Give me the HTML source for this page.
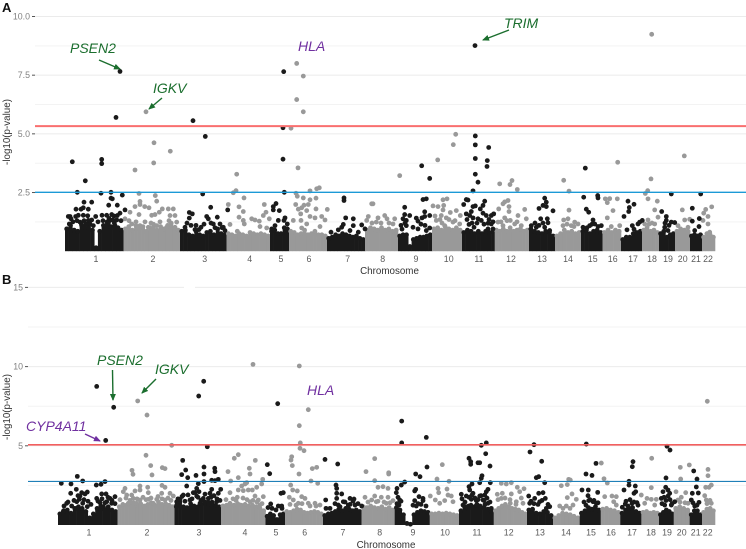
<!DOCTYPE html>
<html lang="en">
<head>
<meta charset="utf-8">
<title>Manhattan plots</title>
<style>
html,body{margin:0;padding:0;background:#fff;}
svg{display:block;font-family:"Liberation Sans",sans-serif;}
</style>
</head>
<body>
<svg id="chart" width="746" height="549" viewBox="0 0 746 549" xmlns="http://www.w3.org/2000/svg">
  <defs>
    <marker id="head-green" markerWidth="7" markerHeight="7" refX="6" refY="3" orient="auto" markerUnits="userSpaceOnUse"><path d="M0,0 L7,3 L0,6 Z" fill="#1b6e2e"/></marker>
    <marker id="head-purple" markerWidth="7" markerHeight="7" refX="6" refY="3" orient="auto" markerUnits="userSpaceOnUse"><path d="M0,0 L7,3 L0,6 Z" fill="#7030a0"/></marker>
  </defs>
</svg>
<script>
const chromNames = ["1","2","3","4","5","6","7","8","9","10","11","12","13","14","15","16","17","18","19","20","21","22"];

const chromEdgesA = [0,58.5,115,161.5,205,224,262,300,333,367,397,429.7,464,490,516,537.5,556,577,594,610,625,637,650];
const chromEdgesB = [0,59.5,116.5,163,207.5,227,265,303.5,336.7,371.7,401,435.7,469,495,521.7,542.7,562.3,583.3,601,615.7,631.7,644,657];
const tickPosA = [31,88,139.7,184.7,216,244,282.7,317.7,351,383.7,414,446,477,503,527.7,547.7,568,587,603,617.7,631,643];
const tickPosB = [31,89,141,187,218,246.7,285,321.7,355,387,419,450.7,482,508,533,553,574,593,609,623.7,637.7,649.7];

const yMajorA = [2.5,5,7.5,10];
const yLabelsA = ["2.5","5.0","7.5","10.0"];
const yMinorA = [1.25,3.75,6.25,8.75];
const yMajorB = [5,10,15];
const yLabelsB = ["5","10","15"];
const yMinorB = [2.5,7.5,12.5];

const thresholdsA = {red:5.33, blue:2.51};
const thresholdsB = {red:5.06, blue:2.75};

const massA = [
 [1.05,1.2,1,.95,1.25,1.1,1.3,1,.25,.95,1.2,1.35,1.15,1.3,1.1,1],
 [1.05,1.15,1,1.2,1.05,1.15,.95,1.1,1.25,1,1.15,1.05,1.2,1.3,1.1,1],
 [.95,1,.8,.75,.95,.8,.75,.9,.95,.8,1.05,.85,.8],
 [.85,.8,.75,.85,.8,.75,.9,.85,.8,.85,.8,.75],
 [.95,1,.85,.85,1.1,1.05],
 [.95,.9,.8,.85,1,.8,.85,.95,.8,.8,.75],
 [.65,.7,.8,.75,.85,.8,.75,.7,.75,.65,.6],
 [1,1.1,1.05,1,1.1,1,1.05,.95,1],
 [.75,.8,.8,.3,.6,.65,.7,.7,.75,.8],
 [1.05,1.1,1,1.15,1.05,1,1.1,1],
 [.9,1,.95,.85,.95,.85,.95,.9,.95],
 [1,.95,1.05,.95,1.1,.95,1,1.05,.95,1],
 [1.05,.95,.9,.85,.95,.9,.75],
 [.75,.85,1,.9,.95,.85,.9],
 [.95,1,.85,.95,1,.9],
 [.9,1,.9,1,.95],
 [.6,.7,.7,.85,.9,.95],
 [1,1.1,.95,1,.9],
 [.85,.95,.7,.8,.85],
 [.95,1.05,1,.95],
 [.75,.8,.75,.8],
 [.7,.85,.8,.7]
];
const massB = [
 [.85,1.05,1.1,.9,1.2,1.3,1.2,1,.6,.85,1.2,1.35,1.15,1.3,1.1,1],
 [1.3,1.45,1.4,1.5,1.55,1.4,1.5,1.35,1.45,1.55,1.4,1.6,1.45,1.5,1.4,1.3],
 [1.3,1.6,1.3,1.25,1.5,1.35,1.3,1.45,1.6,1.45,1.6,1.4,1.3],
 [1.35,1.4,1.45,1.4,1.5,1.4,1.45,1.35,1.4,1.3,1.2,1.05],
 [.7,.85,.75,.5,.8,.85],
 [1,.95,1.05,1.15,1.1,.95,.9,.95,1,.95,.85],
 [.75,.85,.9,1,1.15,1.05,1.2,1.15,1.05,1.1,1],
 [1.3,1.25,1.35,1.25,1.2,1.3,1.15,1.25,1.1],
 [1.25,1.1,.8,.25,.2,.8,.95,1.05,1,.95],
 [.85,.85,.9,.85,.9,.85,.8,.75],
 [1.05,1.25,1.35,1.3,1.4,1.35,1.25,1.15,1],
 [1.05,1.2,1.35,1.45,1.3,1.2,1.15,1.1,.95,.85],
 [1.1,1.15,.9,.85,1,.95,.75],
 [.6,.75,.9,.85,.8,.7,.6],
 [.9,1.05,1.25,1.15,1.3,1.1],
 [1.15,1.2,1.1,1.05,.95],
 [.9,1.1,1.2,1.25,1,.9],
 [.95,1,.9,.95,.9],
 [.8,.95,1.1,1,.85],
 [1.2,1.3,1.2,1.1],
 [.8,1.05,1.05,.8],
 [.95,1.15,1.2,1.05]
];

const blackA = [
 [55,7.66],[51,5.7],[7.3,3.81],[12.3,2.51],[20.3,3],[36.7,3.91],[36.7,3.73],[36,2.47],[46,2.51],[57.3,2.39],[47.3,2.23],[46,2.26],[19,2.09],[26.7,2.09],[11,1.79],[16,1.79],[18.3,1.85],[23.3,1.79],[5,1.48],[3.3,1.48],[6,1.38],[10.7,1.48],[13.3,1.53],[18.3,1.53],[22.7,1.51],[26.7,1.33],[30.7,1.48],[43.7,1.96],[52.3,1.96],[60,1.76],[55,1.62],[52.3,1.52],[37,1.53],[41.7,1.53],[46.7,1.56],[51.7,1.33],[47.7,1.33],[45,1.31],[43.3,1.19],[41,1.09],[4.3,1.16],[15,1.24],[23.3,1.31],[25,1.16],[28.3,1.09],[16.7,1.09],[50,1.09],[1.7,.95],
 [128,5.56],[140.3,4.89],[137.7,2.44],[145.7,1.87],[124.3,1.65],[127.3,1.59],[124.3,1.41],[141.7,1.48],[143.3,1.38],[152.3,1.45],[130,.92],[134,.92],[136,1.02],[120,1.02],[148.3,1.16],[155,1.16],[158.3,1.02],[160,.88],[162.7,1.76],
 [218.7,7.65],[218,5.26],[218,3.92],[219.3,2.51],[211,2.03],[208.3,1.9],[208.3,1.76],[214.3,1.73],[220,1.42],[219,1.31],[222.3,1.16],[213.3,1.31],[210,1.09],[221.7,.95],[206.7,.95],
 [279,2.27],[279,2.16],[278.3,1.14],[280.7,1.42],[288.3,1.38],[288.3,1.09],[296.7,1.12],[300,.95],[266,.81],[276.7,1.02],[273.3,.91],[285,.88],[293.3,.81],
 [356.7,3.64],[364.7,3.1],[358,2.2],[361.3,2.23],[339.7,1.87],[359.7,1.68],[339.7,1.56],[344.7,1.52],[338,1.38],[341.3,1.31],[351.3,1.41],[357,1.42],[359.7,1.48],[364.7,1.52],[353,1.28],[337,.94],[341.3,1.09],[348,1.02],[353,.95],[364.7,.99],[361.3,.88],
 [410,8.76],[410.3,4.91],[410.3,4.53],[423.7,4.42],[410.3,3.95],[422.3,3.86],[422,3.61],[410.3,3.28],[413,2.94],[408,2.57],[401.3,2.2],[403,2.18],[398.7,1.99],[408,1.9],[410.3,1.93],[419.7,2.13],[418,1.95],[415.3,1.8],[406.3,1.69],[401.3,1.59],[404.7,1.52],[408,1.42],[413,1.38],[418,1.62],[421.3,1.52],[426.3,1.52],[428.7,1.59],[416.3,1.31],[423,1.19],[426.3,1.16],[404,1.14],[409,1.02],[423,.95],[428,.95],
 [479.7,2.26],[481.3,2.09],[478,1.95],[481.3,1.9],[474,1.82],[488,1.72],[475.7,1.38],[482.3,1.38],[483,1.21],[466.3,1.09],[471.3,1.02],[479.7,1.02],[484.7,.88],
 [520.3,3.54],[518.7,2.3],[532.7,2.37],[533,2.27],[521.3,1.79],[523.7,1.66],[528,1.33],[524.7,1.09],[518,1.02],[536.3,1.09],[529.7,1.16],
 [563,2.13],[569,2],[564.3,1.86],[563.7,1.69],[559,1.48],[562,.91],[567.3,1.09],[569,.94],[573,1.16],[577.3,1.31],[574.7,1.24],
 [606.3,2.44],[596.7,1.69],[601.3,1.48],[601.3,1.31],[606.3,1.24],[609.7,1.22],[599.7,1.02],[603,.88],
 [635.7,2.44],[627.3,1.83],[634.3,1.39],[627.3,1.28],[634,1.05],[629.7,.88],
 [8,1.25],[12,1.3],[19,1.3],[21,1.15],[33,1.25],[38,1.3],[44,1.4],[49,1.5],[56,1.3],
 [122,1.2],[126,1.1],[131,1.1],[139,1.15],[146,1.2],[150,1],[157,1],
 [340,1.2],[336,1.1],[356,1.15],[360,1.1],
 [402,1.35],[407,1.2],[412,1.2],[419,1.15],[424,1.35],[428,1.25],
 [470,1.2],[474,1.1],[478,1.2],
 [522,1],[527,1.15],[533,1.05],
 [600,1.2],[604,1.1]
];
const grayA = [
 [81,5.94],[89,4.62],[105.3,4.26],[88.7,3.76],[70,3.46],[74,2.46],[90.3,2.37],[91.7,2.13],[75,2.12],[70,1.9],[75,1.99],[79.7,1.9],[84,1.85],[65,1.66],[74,1.56],[86.7,1.53],[90,1.56],[97.3,1.8],[94.3,1.66],[103.3,1.8],[108.3,1.8],[105,1.52],[110,1.52],[60,1.38],[66.7,1.16],[75,1.09],[83.3,1.02],[91.7,1.09],[101.7,1.02],[111.7,1.24],[110,1.02],
 [171.7,3.28],[171,2.58],[168.3,2.49],[163.3,1.99],[179,2.27],[174,1.89],[178.3,1.69],[174,1.45],[178.3,1.31],[179.3,1.16],[186.7,1.38],[190,1.33],[194.3,1.28],[199.3,1.99],[201,1.66],[198.3,1.52],[204.3,1.38],[201.7,.99],[195,1.05],[165,1.14],[172.3,.85],
 [231.7,8],[238.3,7.46],[231.7,6.46],[238.3,5.94],[226,5.24],[233,3.55],[231,2.47],[232.3,2.34],[245,2.57],[251.7,2.66],[254.3,2.7],[238.3,2.27],[245,2.19],[251,2.26],[230.7,1.99],[239,1.96],[243.3,1.99],[236.7,1.85],[233.3,1.79],[241.7,1.73],[235.7,1.59],[251,1.8],[262.3,1.78],[245,1.48],[250,1.42],[256.7,1.48],[260,1.33],[228.3,1.31],[236,1.31],[241.7,1.16],[255,1.05],[236.7,.99],
 [306.7,2.02],[303.3,1.48],[301.7,1.31],[308,2.02],[319.7,1.52],[313,1.42],[322,1.38],[329.7,1.38],[311.3,1.24],[328,1.16],[334.7,3.22],
 [390.7,4.98],[388.3,4.54],[372.7,3.89],[368,1.93],[373,1.9],[378,2.19],[382,2.23],[378.7,1.95],[378,1.76],[385.3,1.65],[391.3,1.73],[395.3,1.52],[376.3,1.52],[381.3,1.42],[371.3,1.31],[388,1.24],[394.7,1.16],[379.7,1.09],
 [434.7,2.87],[447,3.01],[445,2.84],[452.3,2.63],[443,2.16],[439.7,2.1],[438,2.02],[433.7,1.8],[444,1.9],[444,1.69],[459.7,1.78],[439.7,1.42],[445.3,1.31],[453,1.52],[461.3,1.38],[433,1.24],[438,1.09],[449.7,1.16],[456.3,1.09],
 [498.7,3.02],[504,2.56],[504,1.75],[498.7,1.33],[503,1.38],[509.7,1.24],[498,1.09],[506.3,1.09],[513,1.16],
 [552.7,3.79],[540.3,2.23],[542.3,2.07],[544.7,2.24],[552.3,2.23],[548,1.73],[542.3,1.42],[546.3,1.05],[554.7,1.09],
 [586.7,9.24],[586,3.08],[582.7,2.58],[580.3,2.46],[583,2.23],[592.3,2.13],[589.7,1.76],[593,1.45],[583,1.33],[579.7,1.16],[589.7,1.16],
 [619.3,4.06],[617.3,1.76],[619.7,1.33],[624.7,1.36],[613,1.09],[623,1.02],
 [646.7,1.89],[640.7,1.78],[638.7,1.62],[643,1.48],[638,1.31],[643,1.16],[644.7,.81],
 [64,1.3],[71,1.25],[80,1.25],[86,1.2],[95,1.25],[104,1.3],
 [307,1.2],[316,1.2],[324,1.2],
 [370,1.5],[375,1.35],[384,1.35],[390,1.3],[377,1.2],
 [436,1.25],[442,1.3],[452,1.25],
 [584,1.15],[587,1.2],
 [502,1.15],[509,1.05]
];

const blackB = [
 [38.7,8.75],[55.7,7.43],[47.7,5.34],[19.3,3.07],[24.7,2.78],[3.3,2.63],[13,2.59],[38.3,2.52],[43,2.57],[47,2.74],[18.3,2.25],[12.7,2],[43.7,1.96],[22,1.83],[23.7,2.04],[29.3,2.08],[27,1.96],[21.3,1.62],[18.7,1.47],[24.7,1.37],[48,1.96],[38.7,1.68],[52,1.68],[57,1.79],[42,1.41],[48.7,1.47],[53.7,1.37],[8.7,1.37],[13.7,1.2],[29.3,1.16],[45.3,1.16],[5.3,.84],[18.7,1.05],
 [145.7,9.07],[140.7,8.14],[149.3,4.94],[124.7,4.08],[146,3.66],[156.7,3.58],[157,3.37],[127.7,3.47],[123.7,3.18],[138,3.13],[146,3.22],[129.7,2.99],[160.3,2.88],[157,2.8],[153.7,2.82],[146,2.74],[140.3,2.61],[128.7,2.46],[138.7,2.31],[153.7,2.25],[162.7,2.25],[141,2.1],[135.3,2.04],[152,2],[160.3,2],[125.3,1.89],[138.7,1.83],[145.3,1.68],[122,1.62],[150.3,1.68],[132,1.58],[142,1.37],[158.7,1.47],[118.7,1.26],[133.7,1.2],[118.7,1.47],
 [219.7,7.66],[209.3,3.81],[211.7,3.24],[223,2],[225.3,2.04],[212.7,1.33],[220.3,1.2],[223.7,1.2],
 [267,4.14],[279.7,3.85],[278,2.52],[278.7,2.31],[278.7,2],[283.7,1.96],[278.7,1.68],[267.7,1.58],[268,1.05],[292,1.68],[296,1.64],[285.3,1.47],[290.3,1.26],[280.3,1.26],[297,1.26],[303.7,1.2],
 [343.7,6.56],[343.7,5.18],[368.3,5.53],[369,3.66],[357.7,3.22],[362,3.05],[346.7,2.71],[343.3,2.52],[339,2.31],[338.3,2.04],[357.7,2.25],[356.7,2.15],[361,1.79],[365,1.68],[356.7,1.54],[341.7,1.58],[365,1.54],[358.3,1.2],[341,1.26],
 [428.3,5.18],[423.3,5.03],[427.7,4.5],[411,4.21],[412.7,4],[412.7,3.83],[420,3.93],[421.7,3.93],[432,3.72],[424,3.11],[423.3,2.95],[421.7,2.67],[432.3,2.67],[414,2.59],[411,2.42],[430,2.25],[428.3,2.1],[411.7,2.21],[403.3,1.94],[408.3,1.83],[415,2],[426.7,1.89],[421.7,1.83],[413.3,1.62],[418.3,1.54],[425,1.58],[405,1.26],[410,1.05],[430,1.37],[433.3,1.05],
 [476,5.07],[472,4.61],[483.7,4.02],[478.3,2.99],[480.7,3.05],[486.7,2.67],[480.7,2],[485,2.04],[487.3,1.68],[470.7,1.83],[476.7,1.68],[481.7,1.47],[471.7,1.37],[491.7,1.16],[488.3,1.05],
 [528.3,5.11],[538,3.89],[528,3.22],[534,3.13],[524,2.21],[530.3,2.21],[539.7,2.06],[530,1.85],[530.7,1.54],[535,1.47],[538.3,1.37],
 [575,4],[574.3,3.68],[571,2.76],[571,2.52],[566,2.21],[577.3,2.46],[577.7,2.1],[576,2],[567.3,1.33],[564.3,1.12],[574,1.37],[579,1.41],
 [609,4.97],[612,4.73],[608,2.97],[607.7,2.38],[610,2.21],[605,2.1],[611.7,2],[610,1.83],[603.3,1.68],[616.7,1.47],[613.3,1.26],[606.7,1.26],
 [635.7,3.41],[639,2.9],[638.3,2.4],[640.3,2.02],[634.3,2],[633.3,1.58],[641,1.43],[636.7,1.2],
 [6,1.2],[10,1.45],[16,1.55],[20,1.85],[26,1.6],[30,1.5],[33,1.3],[40,1.5],[44,1.65],[47,1.4],[50,1.75],[54,1.55],[57,1.35],
 [120,1.65],[124,1.8],[127,1.5],[130,1.9],[134,1.65],[137,2.05],[140,1.75],[143,1.55],[147,1.95],[150,1.45],[153,1.75],[156,1.85],[159,1.65],[162,1.55],
 [210,1.1],[214,1.05],[218,.95],[224,1.05],
 [272,1.05],[277,1.35],[282,1.15],[287,1.45],[292,1.3],[295,1.5],[300,1.35],
 [340,1.75],[343,1.5],[339,1.35],[355,1.25],[360,1.35],[363,1.3],[368,1.2],
 [404,1.65],[407,1.45],[411,1.75],[414,1.9],[417,1.7],[420,1.6],[423,1.85],[426,1.55],[429,1.7],[432,1.45],[408,1.15],[413,1.25],[419,1.3],[427,1.3],
 [473,1.5],[476,1.35],[480,1.3],[484,1.55],[490,1.3],
 [526,1.45],[532,1.6],[536,1.55],[540,1.4],[528,1.25],
 [568,1.5],[572,1.6],[576,1.45],[580,1.25],[570,1.2],
 [604,1.35],[608,1.55],[612,1.6],[606,1.75],[614,1.35],
 [635,1.4],[639,1.25]
];
const grayB = [
 [79.7,7.83],[89,6.94],[113.7,5.03],[88,4.4],[92.7,3.75],[74,3.45],[75,3.2],[94,3.16],[104.3,3.62],[107,3.56],[104,2.5],[107,2.38],[82,2.46],[89.7,2.38],[67,2.31],[65.3,2.1],[77,2.15],[82,2.21],[90.3,2.04],[103.7,2],[112,2],[73.7,1.89],[68.7,1.89],[115.3,1.83],[75.3,1.68],[82,1.58],[90.3,1.62],[98.7,1.62],[107,1.58],[70.3,1.37],[78.7,1.37],[95.3,1.37],[108.7,1.26],
 [195,10.14],[176.3,4.21],[180.3,4.44],[197.3,4.08],[170,3.37],[191.3,3.58],[192,3.22],[180.3,2.99],[172.7,2.78],[188.7,2.67],[187,2.59],[183.7,2.46],[172,2.04],[180.3,2.21],[185.3,2.17],[190.3,2.21],[194.3,2.21],[198.7,2.38],[204.7,2.88],[203.7,2.59],[179.3,1.75],[197,1.83],[200.3,1.58],[205.3,1.79],[172,1.37],[182,1.26],[192,1.47],[202,1.26],
 [241.3,10.04],[250.3,7.28],[241.3,6.27],[242.3,5.18],[242,4.84],[246,4.69],[233.7,4.31],[233,4.1],[234.3,3.75],[241,3.22],[254.3,3.56],[258.7,3.64],[253,2.78],[259.7,2.63],[232.7,2.52],[234.7,2.21],[239.3,2.15],[243.7,1.79],[231.3,1.75],[247,1.68],[235.3,1.58],[250.3,1.37],[257,1.37],[240.3,1.37],[262,1.26],
 [308,3.37],[316.7,4.19],[330.7,3.3],[330.7,3.22],[316.7,2.8],[320,2.38],[325,2.42],[330,2.31],[316.7,1.83],[323.3,1.75],[330,1.75],[318.3,1.47],[335,1.54],[328.3,1.37],[307,1.75],[313.7,1.58],
 [384.3,3.81],[379,2.9],[391,2.76],[380,2.31],[389,2.27],[380.7,2.04],[372.3,1.83],[390,1.89],[393.3,1.83],[377.3,1.58],[386.7,1.54],[395,1.47],[381.7,1.37],
 [443.3,2.63],[448.3,2.59],[453.3,2.67],[459.3,2.38],[466,2.29],[439.3,1.94],[444.3,2],[453.3,1.96],[461.7,2.1],[443.3,1.68],[463.3,1.7],[458.3,1.47],[452.3,1.37],[465,1.37],
 [503.3,2.48],[509.3,2.55],[510.7,2.88],[512.3,2.84],[514,1.96],[509.3,1.73],[518.3,1.62],[501.7,1.2],[508.3,1.2],[515,1.26],
 [543.3,3.91],[546,2.92],[549.3,2.65],[546.7,1.79],[554,1.83],[558.3,1.79],[555.7,1.47],[558.3,1.26],
 [593.7,4.21],[593.3,2.36],[583.3,1.89],[589,1.68],[593.3,1.62],[598.3,1.62],[586.7,1.37],[596.7,1.26],
 [649.3,7.81],[631.3,3.79],[622.3,3.64],[622.7,2.9],[618,2.1],[627.7,2.04],[623.3,1.75],[620,1.58],[630,1.37],
 [650,3.51],[650,3.11],[647.7,2.38],[653.3,2.52],[651,2.38],[646.7,1.85],[648.3,1.58],[653.3,1.37],
 [62,1.6],[68,1.7],[72,1.55],[79,1.65],[85,1.75],[88,1.6],[93,1.7],[100,1.8],[104,1.65],[110,1.7],[113,1.55],
 [168,1.6],[175,1.65],[178,1.55],[185,1.7],[189,1.6],[195,1.55],[199,1.45],[204,1.35],
 [232,1.3],[238,1.25],[244,1.35],[252,1.2],[258,1.2],
 [310,1.45],[320,1.5],[326,1.45],[332,1.4],
 [440,1.6],[447,1.7],[452,1.6],[458,1.3],
 [505,1.05],[512,1.05],
 [622,1.45],[627,1.4],
 [649,1.35],[652,1.55]
];

const BLACK = "#1a1a1a", GRAY = "#999999";
const NS = "http://www.w3.org/2000/svg";
const svg = document.getElementById("chart");

function linear(d0, d1, r0, r1) {
  return function (v) { return r0 + (v - d0) * (r1 - r0) / (d1 - d0); };
}
function node(parent, tag, attrs) {
  const el = document.createElementNS(NS, tag);
  for (const k in attrs) el.setAttribute(k, attrs[k]);
  parent.appendChild(el);
  return el;
}

function drawPanel(cfg) {
  const x = linear(0, cfg.xMax, cfg.xLeft, 715);
  const y = linear(0, cfg.yRef, cfg.y0, cfg.yRefPx);

  const panel = node(svg, "g", {});
  
  

  cfg.minor.forEach(function (v) {
    const g = node(panel, "line", {x1: cfg.gridLeft, x2: 746, y1: y(v), y2: y(v), stroke: "#f3f3f3", "stroke-width": 1});
    
    
  });
  cfg.major.forEach(function (v, i) {
    const g = node(panel, "line", {x1: cfg.gridLeft, x2: 746, y1: y(v), y2: y(v), stroke: "#ebebeb", "stroke-width": 1});
    
    
    const t = node(panel, "line", {x1: cfg.gridLeft - 3, x2: cfg.gridLeft, y1: y(v), y2: y(v), stroke: "#555", "stroke-width": 1});
    
    
    const lab = node(panel, "text", {x: cfg.gridLeft - 5, y: y(v) + 3, "text-anchor": "end", "font-size": 8.8, fill: "#808080"});
    lab.textContent = cfg.yLabels[i];
    
    
  });

  const massLayer = node(panel, "g", {});
  
  
  cfg.mass.forEach(function (bins, c) {
    const color = c % 2 === 0 ? BLACK : GRAY;
    const start = cfg.edges[c], end = cfg.edges[c + 1];
    const w = (end - start) / bins.length;
    bins.forEach(function (h, i) {
      const left = x(start + i * w), right = x(start + (i + 1) * w);
      const top = y(h) + 2.4;
      const r = node(massLayer, "rect", {x: left, y: top, width: right - left + 0.3, height: Math.max(0, cfg.y0 - top), fill: color});
      
      
      const cap = node(massLayer, "circle", {cx: (left + right) / 2, cy: top, r: 2.4, fill: color});
      
      
    });
  });

  [[cfg.gray, GRAY, "gray"], [cfg.black, BLACK, "black"]].forEach(function (s) {
    const layer = node(panel, "g", {fill: s[1]});
    
    
    s[0].forEach(function (p) {
      const dot = node(layer, "circle", {cx: x(p[0]), cy: y(p[1]), r: 2.4});
      
      
    });
  });

  const red = node(panel, "line", {x1: cfg.gridLeft, x2: 746, y1: y(cfg.thresholds.red), y2: y(cfg.thresholds.red), stroke: cfg.redColor, "stroke-width": cfg.redWidth});
  
  
  const blue = node(panel, "line", {x1: cfg.gridLeft, x2: 746, y1: y(cfg.thresholds.blue), y2: y(cfg.thresholds.blue), stroke: cfg.blueColor, "stroke-width": cfg.blueWidth});
  
  

  chromNames.forEach(function (n, i) {
    const t = node(panel, "text", {x: x(cfg.ticks[i]), y: cfg.tickY, "text-anchor": "middle", "font-size": 8.8, fill: "#5a5a5a"});
    t.textContent = n;
    
    
  });

  const xt = node(panel, "text", {x: cfg.xTitleX, y: cfg.xTitleY, "text-anchor": "middle", "font-size": 9.8, fill: "#333"});
  xt.textContent = "Chromosome";
  
  

  const yt = node(panel, "text", {transform: "translate(10," + cfg.yTitleY + ") rotate(-90)", "text-anchor": "middle", "font-size": 9.8, fill: "#333"});
  yt.textContent = "-log10(p-value)";
  
  

  const letter = node(panel, "text", {x: 2, y: cfg.letterY, "font-size": 13, "font-weight": "bold", fill: "#111"});
  letter.textContent = cfg.letter;
  
  
}

drawPanel({
  name: "a", letter: "A", letterY: 12, xLeft: 65, xMax: 650, gridLeft: 35,
  y0: 251.2, yRef: 10, yRefPx: 16.5,
  major: yMajorA, yLabels: yLabelsA, minor: yMinorA,
  edges: chromEdgesA, ticks: tickPosA, mass: massA, black: blackA, gray: grayA,
  thresholds: thresholdsA, redColor: "#f96f6f", redWidth: 2, blueColor: "#1c9ad6", blueWidth: 1.3,
  tickY: 262, xTitleX: 389.5, xTitleY: 274, yTitleY: 132
});
drawPanel({
  name: "b", letter: "B", letterY: 284, xLeft: 58, xMax: 657, gridLeft: 28,
  y0: 525, yRef: 15, yRefPx: 287.4,
  major: yMajorB, yLabels: yLabelsB, minor: yMinorB,
  edges: chromEdgesB, ticks: tickPosB, mass: massB, black: blackB, gray: grayB,
  thresholds: thresholdsB, redColor: "#f25f5f", redWidth: 1.6, blueColor: "#2080b8", blueWidth: 1.2,
  tickY: 535.5, xTitleX: 386, xTitleY: 548, yTitleY: 407
});

const gridGap = node(svg, "rect", {x: 184, y: 285, width: 11, height: 5, fill: "#ffffff"});



const annotationLabels = [
  ["PSEN2", 70, 53, "#1b6e2e"], ["IGKV", 153, 93, "#1b6e2e"], ["HLA", 298, 51, "#7030a0"], ["TRIM", 504, 28, "#1b6e2e"],
  ["PSEN2", 97, 365, "#1b6e2e"], ["IGKV", 155, 374, "#1b6e2e"], ["HLA", 307, 395, "#7030a0"], ["CYP4A11", 26, 431, "#7030a0"]
];
const annotationArrows = [
  [99, 60, 120, 69, "green"], [162, 98, 149, 109, "green"], [509, 30, 483, 40, "green"],
  [112.5, 370, 113, 400, "green"], [156, 379, 142, 393, "green"], [85, 434, 100, 441, "purple"]
];
annotationLabels.forEach(function (a) {
  const t = node(svg, "text", {x: a[1], y: a[2], "font-size": 14, "font-style": "italic", fill: a[3]});
  t.textContent = a[0];
  
  
});
annotationArrows.forEach(function (a) {
  const color = a[4] === "green" ? "#1b6e2e" : "#7030a0";
  const l = node(svg, "line", {x1: a[0], y1: a[1], x2: a[2], y2: a[3], stroke: color, "stroke-width": 1.4, "marker-end": "url(#head-" + a[4] + ")"});
  
  
});
</script>
</body>
</html>
